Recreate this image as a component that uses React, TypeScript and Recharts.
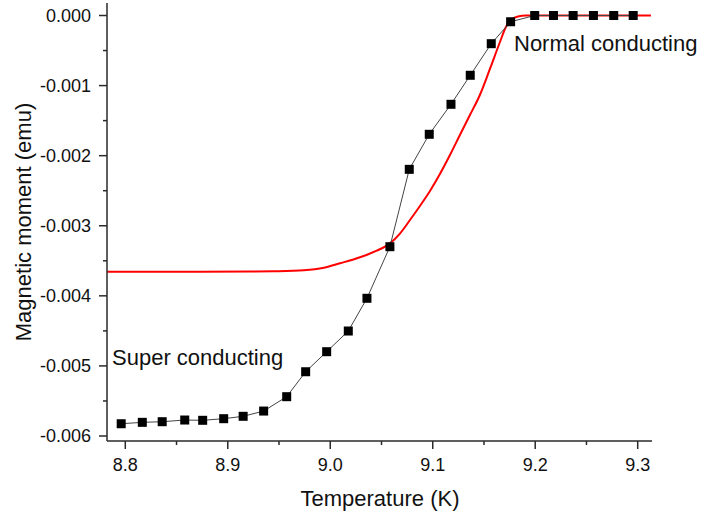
import React from 'react';
import { LineChart, Line, XAxis, YAxis, Customized } from 'recharts';

// Black squares series (measured)
const blackT = [8.796, 8.8166, 8.836, 8.858, 8.8755, 8.896, 8.915, 8.935, 8.9575, 8.976, 8.9965, 9.0176, 9.0358, 9.0582, 9.0771, 9.0966, 9.1178, 9.1366, 9.1571, 9.176, 9.1995, 9.2178, 9.237, 9.2568, 9.2766, 9.2956];
const blackM = [-0.005825, -0.005805, -0.005796, -0.005772, -0.005776, -0.005753, -0.005719, -0.005644, -0.005439, -0.005083, -0.004797, -0.004502, -0.004035, -0.003299, -0.002195, -0.001695, -0.001267, -0.000853, -0.000402, -0.000089, 0, 0, 0, 0, 0, 0];

// Red continuous curve
const redT = [8.782, 8.8729, 8.9217, 8.9451, 8.9743, 8.9939, 9.0095, 9.029, 9.0453, 9.0582, 9.068, 9.0778, 9.0875, 9.0973, 9.107, 9.1168, 9.1265, 9.1363, 9.146, 9.1558, 9.1656, 9.1714, 9.1763, 9.1831, 9.1909, 9.3129];
const redM = [-0.003656, -0.003656, -0.003653, -0.003649, -0.003635, -0.003599, -0.003536, -0.00345, -0.003356, -0.003251, -0.003111, -0.002918, -0.002718, -0.002504, -0.002262, -0.001991, -0.001705, -0.00142, -0.001134, -0.000763, -0.000378, -0.000164, -0.000064, -0.000014, -0.000001, 0];

const xMajorTicks = [8.8, 8.9, 9.0, 9.1, 9.2, 9.3];
const xMinorTicks = [8.85, 8.95, 9.05, 9.15, 9.25];
const yMajorTicks = [0, -0.001, -0.002, -0.003, -0.004, -0.005, -0.006];
const yMinorTicks = [-0.0005, -0.0015, -0.0025, -0.0035, -0.0045, -0.0055];

const xDomain = [8.78215, 9.31395];
const yDomain = [-0.0060713, 0.0001784];

const blackData = blackT.map((t, i) => ({ t, m: blackM[i] }));
const redData = redT.map((t, i) => ({ t, m: redM[i] }));

const FONT = '"Liberation Sans", Arial, sans-serif';
const AXIS_COLOR = '#2a2a2a';
const TEXT_COLOR = '#111';

const isIn = (arr: number[], v: number) => arr.some((a) => Math.abs(a - v) < 1e-9);

const XTick = (props: any) => {
  const { x, y, payload } = props;
  const v = payload.value;
  const major = isIn(xMajorTicks, v);
  return (
    <g>
      <line x1={x} x2={x} y1={y} y2={y + (major ? 8 : 4)} stroke={AXIS_COLOR} strokeWidth={1.5} />
      {major && (
        <text x={x} y={y + 30} textAnchor="middle" fontSize={18} fontFamily={FONT} fill={TEXT_COLOR}>
          {v.toFixed(1)}
        </text>
      )}
    </g>
  );
};

const YTick = (props: any) => {
  const { x, y, payload } = props;
  const v = payload.value;
  const major = isIn(yMajorTicks, v);
  const label = Math.abs(v) < 1e-12 ? '0.000' : v.toFixed(3);
  return (
    <g>
      <line x1={x} x2={x - (major ? 8 : 4)} y1={y} y2={y} stroke={AXIS_COLOR} strokeWidth={1.5} />
      {major && (
        <text x={x - 16} y={y} dy="0.35em" textAnchor="end" fontSize={18} fontFamily={FONT} fill={TEXT_COLOR}>
          {label}
        </text>
      )}
    </g>
  );
};

const SquareDot = (props: any) => {
  const { cx, cy, index } = props;
  if (cx == null || cy == null) return <g key={`d${index}`} />;
  return <rect key={`d${index}`} x={cx - 4.5} y={cy - 4.5} width={9} height={9} fill="#000" />;
};

const Annotations = () => (
  <g fontFamily={FONT} fill={TEXT_COLOR}>
    <text x={514} y={51} fontSize={22}>Normal conducting</text>
    <text x={112} y={365} fontSize={22}>Super conducting</text>
    <text x={380} y={506} fontSize={22} textAnchor="middle">Temperature (K)</text>
    <text transform="translate(31,222) rotate(-90)" fontSize={22} textAnchor="middle">Magnetic moment (emu)</text>
  </g>
);

export default function App() {
  return (
    <div style={{ position: 'absolute', left: 0, top: 0, width: 704, height: 516, background: '#fff' }}>
      <LineChart width={704} height={516} margin={{ top: 3, right: 52, left: 0, bottom: 0 }}>
        <XAxis
          dataKey="t"
          type="number"
          domain={xDomain}
          allowDataOverflow
          ticks={[...xMajorTicks, ...xMinorTicks].sort((a, b) => a - b)}
          interval={0}
          tickSize={0}
          tickMargin={0}
          tick={<XTick />}
          height={75}
          axisLine={{ stroke: AXIS_COLOR, strokeWidth: 1.5 }}
          tickLine={false}
        />
        <YAxis
          dataKey="m"
          type="number"
          domain={yDomain}
          allowDataOverflow
          ticks={[...yMajorTicks, ...yMinorTicks].sort((a, b) => a - b)}
          interval={0}
          tickSize={0}
          tickMargin={0}
          tick={<YTick />}
          width={107}
          axisLine={{ stroke: AXIS_COLOR, strokeWidth: 1.5 }}
          tickLine={false}
        />
        <Line
          data={redData}
          dataKey="m"
          type="monotone"
          stroke="#ff0000"
          strokeWidth={2}
          dot={false}
          activeDot={false}
          isAnimationActive={false}
        />
        <Line
          data={blackData}
          dataKey="m"
          type="linear"
          stroke="#444"
          strokeWidth={1}
          dot={<SquareDot />}
          activeDot={false}
          isAnimationActive={false}
        />
        <Customized component={Annotations} />
      </LineChart>
    </div>
  );
}
